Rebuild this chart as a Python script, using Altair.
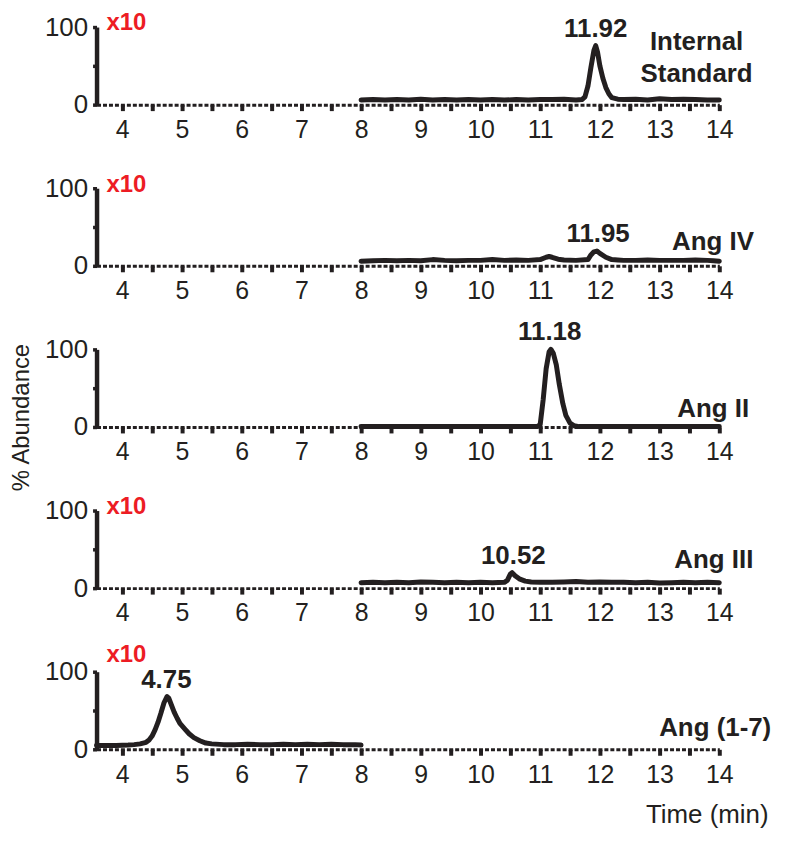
import altair as alt
import pandas as pd

INK = "#231f20"
RED = "#ed1c24"
FONT = "Liberation Sans"

# ---- traces (time in min, % abundance) ----
is_t = [8.0, 8.2, 8.4, 8.6, 8.8, 9.0, 9.2, 9.4, 9.6, 9.8, 10.0, 10.2, 10.4, 10.6, 10.8, 11.0, 11.2, 11.4,
        11.6, 11.7, 11.75, 11.8, 11.85, 11.9, 11.93, 11.96, 12.0, 12.05, 12.1, 12.15, 12.2, 12.3, 12.4,
        12.6, 12.8, 13.0, 13.2, 13.4, 13.6, 13.8, 14.0]
is_v = [6, 6.5, 6, 6.5, 6, 7, 6, 6.5, 6, 6.5, 6, 6.5, 6, 6.5, 6, 6.5, 6.5, 7,
        6, 6.5, 10, 24, 48, 70, 76, 68, 50, 34, 22, 14, 9, 7, 6.5,
        7, 6, 7.5, 6.5, 7, 6.5, 6, 6]

iv_t = [8.0, 8.2, 8.4, 8.6, 8.8, 9.0, 9.2, 9.4, 9.6, 9.8, 10.0, 10.2, 10.4, 10.6, 10.8, 11.0, 11.1,
        11.15, 11.2, 11.3, 11.4, 11.6, 11.8, 11.85, 11.9, 11.95, 12.0, 12.1, 12.2, 12.3, 12.4, 12.6,
        12.8, 13.0, 13.2, 13.4, 13.6, 13.8, 13.9, 14.0]
iv_v = [6, 6.5, 7, 6.5, 7, 6.5, 8, 7, 6.5, 7, 7, 8, 7, 7.5, 7, 8, 11,
        12, 11, 8.5, 7.5, 7, 8, 14, 18, 19, 16, 11, 8, 7.5, 7, 7,
        7.5, 7, 7, 7, 7.5, 7, 6.5, 6]

ii_t = [8.0, 8.5, 9.0, 9.5, 10.0, 10.5, 10.95, 11.0, 11.05, 11.1, 11.15, 11.18, 11.22, 11.27, 11.32,
        11.38, 11.43, 11.5, 11.57, 11.65, 12.0, 12.5, 13.0, 13.5, 14.0]
ii_v = [0.5, 0.5, 0.5, 0.5, 0.5, 0.5, 0.5, 3, 35, 75, 97, 100, 95, 80, 55,
        30, 15, 5, 1.5, 0.5, 0.5, 0.5, 0.5, 0.5, 0.5]

iii_t = [8.0, 8.2, 8.4, 8.6, 8.8, 9.0, 9.2, 9.4, 9.6, 9.8, 10.0, 10.2, 10.4, 10.45, 10.5, 10.53, 10.58,
         10.65, 10.75, 10.85, 11.0, 11.2, 11.4, 11.6, 11.8, 12.0, 12.2, 12.4, 12.6, 12.8, 13.0, 13.2,
         13.4, 13.6, 13.8, 14.0]
iii_v = [7, 7.5, 7, 7.5, 7, 8, 7.5, 7, 7.5, 7, 7.5, 7, 7.5, 10, 18, 20, 16,
         12, 9, 8, 7.5, 7.5, 8, 8.5, 7.5, 8, 7.5, 7.5, 7, 7.5, 6.5, 7,
         7.5, 7, 7.5, 7]

a17_t = [3.57, 3.7, 3.9, 4.1, 4.2, 4.3, 4.4, 4.45, 4.5, 4.55, 4.6, 4.65, 4.7, 4.75, 4.78, 4.82, 4.87,
         4.92, 4.97, 5.05, 5.12, 5.2, 5.3, 5.4, 5.5, 5.7, 5.9, 6.1, 6.3, 6.5, 6.7, 6.9, 7.1, 7.3, 7.5,
         7.7, 7.9, 8.0]
a17_v = [5, 5, 5, 5.5, 6, 7, 9, 12, 17, 25, 35, 47, 60, 68, 66, 58, 48,
         40, 33, 26, 20, 15, 11, 8, 7, 6, 6, 6.5, 6, 6, 6.5, 6, 6.5, 6, 6.5,
         6, 6, 5.5]

traces = [(is_t, is_v), (iv_t, iv_v), (ii_t, ii_v), (iii_t, iii_v), (a17_t, a17_v)]

# ---- annotations ----
peak_labels = ["11.92", "11.95", "11.18", "10.52", "4.75"]
peak_x = [11.93, 11.97, 11.16, 10.55, 4.74]
peak_y = [76, 19, 100, 20, 68]

names = ["Internal\nStandard", "Ang IV", "Ang II", "Ang III", "Ang (1-7)"]
name_x = [13.62, 14.58, 14.5, 14.57, 14.87]
name_y = [70, 20.5, 12.8, 25.6, 16.7]
name_align = ["center", "right", "right", "right", "right"]

scale_note = ["x10", "x10", "", "x10", "x10"]
note_y = [96, 95, 96, 96, 113]

x_ticks = [4, 4.5, 5, 5.5, 6, 6.5, 7, 7.5, 8, 8.5, 9, 9.5, 10, 10.5, 11, 11.5, 12, 12.5, 13, 13.5, 14]
y_ticks = [0, 50, 100]
X_DOMAIN = [3.57, 14]

W, H = 626, 78


def panel(i):
    t, v = traces[i]
    df = pd.DataFrame({"t": t, "v": v})
    last = i == 4
    xaxis = alt.Axis(
        values=x_ticks,
        labelExpr="datum.value % 1 === 0 ? '' + datum.value : ''",
        labelOverlap=False, labelFlush=False,
        grid=False, domainDash=[4, 2], domainWidth=3, domainColor=INK,
        tickSize=6, tickWidth=4, tickColor=INK,
        labelFontSize=25, labelFont=FONT, labelColor=INK, labelPadding=7,
        title="Time (min)" if last else None,
        titleFont=FONT, titleFontSize=26, titleFontWeight="normal", titleColor=INK,
        titleAnchor="end", titleAlign="right", titleX=W + 49, titleY=74,
        titleBaseline="alphabetic",
    )
    yaxis = alt.Axis(
        values=y_ticks,
        labelExpr="datum.value === 50 ? '' : '' + datum.value",
        labelOverlap=False, labelFlush=False,
        grid=False, domainWidth=4.5, domainColor=INK,
        tickSize=4, tickWidth=3.5, tickColor=INK,
        labelFontSize=26, labelFont=FONT, labelColor=INK, labelPadding=5,
        title="% Abundance" if i == 2 else None,
        titleFont=FONT, titleFontSize=24, titleFontWeight="normal", titleColor=INK,
        titleAngle=-90, titleAlign="center", titleBaseline="middle",
        titleX=-75, titleY=68,
    )
    x = alt.X("t:Q", scale=alt.Scale(domain=X_DOMAIN, nice=False, zero=False), axis=xaxis)
    y = alt.Y("v:Q", scale=alt.Scale(domain=[0, 100], nice=False), axis=yaxis)

    line = alt.Chart(df).mark_line(
        color=INK, strokeWidth=5, strokeJoin="round", strokeCap="round", clip=False
    ).encode(x=x, y=y)

    pk = pd.DataFrame({"t": [peak_x[i]], "v": [peak_y[i]], "label": [peak_labels[i]]})
    peak_text = alt.Chart(pk).mark_text(
        font=FONT, fontSize=26, fontWeight="bold", color=INK,
        align="center", baseline="alphabetic", dy=-9
    ).encode(x=x, y=y, text="label:N")

    nm = pd.DataFrame({"t": [name_x[i]], "v": [name_y[i]], "label": [names[i]]})
    name_text = alt.Chart(nm).mark_text(
        font=FONT, fontSize=26, fontWeight="bold", color=INK,
        align=name_align[i], baseline="alphabetic", lineBreak="\n", lineHeight=32
    ).encode(x=x, y=y, text="label:N")

    layers = [line, peak_text, name_text]
    if scale_note[i]:
        nt = pd.DataFrame({"t": [X_DOMAIN[0]], "v": [note_y[i]], "label": [scale_note[i]]})
        note = alt.Chart(nt).mark_text(
            font=FONT, fontSize=24, fontWeight="bold", color=RED,
            align="left", baseline="alphabetic", dx=10
        ).encode(x=x, y=y, text="label:N")
        layers.append(note)
    return alt.layer(*layers).properties(width=W, height=H)


chart = alt.vconcat(*[panel(i) for i in range(5)], spacing=84, bounds="flush").properties(
    padding={"left": 2, "top": 1, "right": 5, "bottom": 5}
).configure(font=FONT).configure_view(stroke=None, strokeWidth=0)

chart.save("out.html", embed_options={"renderer": "svg", "actions": False})
